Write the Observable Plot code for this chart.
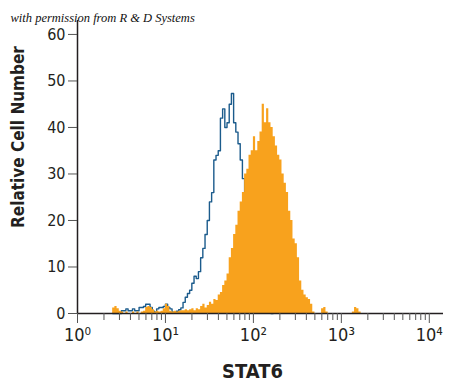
<!DOCTYPE html>
<html>
<head>
<meta charset="utf-8">
<script src="https://cdn.jsdelivr.net/npm/d3@7"></script>
<script src="https://cdn.jsdelivr.net/npm/@observablehq/plot@0.6"></script>
<style>
  html, body { margin: 0; padding: 0; background: #fff; }
  #chart { width: 450px; height: 391px; }
</style>
</head>
<body>
<div id="chart"></div>
<script>
// Histogram channels: log10 start and width of one channel (40 channels per decade)
const binStartLog = 0.4;
const binWidthLog = 0.025;

// Isotype control (blue outline), counts per channel
const blueCounts = [
  0, 0, 0, 0, 0.6, 0.6, 1.0, 0.6, 0.6, 1.0,
  0.6, 0.6, 1.3, 1.3, 1.5, 2.0, 2.0, 1.3, 0.5, 0.3,
  1.0, 1.3, 1.3, 1.5, 2.0, 1.3, 1.0, 0.3, 0.3, 0.5,
  0.8, 1.2, 2.4, 3.5, 4.3, 5.0, 6.5, 8.0, 7.5, 9.0,
  12, 14, 17, 20, 24, 26, 33, 34, 35, 42,
  44, 40, 41, 45, 47.3, 41, 39, 36.5, 33, 29,
  25, 21, 17, 13, 10, 7, 5, 3.5, 2.5, 1.5,
  1, 0.5, 0
];

// STAT6 stained (orange filled), counts per channel
const orangeCounts = [
  1.2, 1.5, 1.0, 0.5, 0.3, 0, 0.3, 0, 0, 0.3,
  0, 0.3, 0, 0.3, 0.5, 1.3, 1.5, 1.3, 0.8, 0.3,
  0.5, 0.3, 0.5, 1.0, 2.0, 1.5, 0.5, 0.3, 0.5, 0.3,
  0.5, 0.6, 0.6, 0.8, 0.6, 0.8, 1.0, 0.6, 1.0, 0.8,
  1.5, 2.0, 1.2, 1.7, 2.4, 2.0, 3.0, 2.8, 4.0, 4.5,
  6.0, 7.0, 8.5, 12, 14, 17, 19, 22, 24, 26,
  30, 31, 34, 35, 38, 35, 37, 39, 45, 41,
  44, 41, 40, 38, 36, 34, 33, 30, 28, 26,
  22, 20, 16, 15, 12, 7, 5, 4, 3.4, 3,
  2, 0.3, 0, 0, 0, 1.0, 1.3, 0.3, 0, 0,
  0, 0, 0, 0, 0, 0, 0, 0, 0, 0.3,
  1.3, 1.0, 0.3
];

const yTicks = [0, 10, 20, 30, 40, 50, 60];
const xMajorTicks = [1, 10, 100, 1000, 10000];
const xMajorLabels = ["10\u2070", "10\u00b9", "10\u00b2", "10\u00b3", "10\u2074"];
const xMinorMultipliers = [2, 3, 4, 5, 6, 7, 8, 9];

const xTitle = "STAT6";
const yTitle = "Relative Cell Number";
const credit = "with permission from R & D Systems";

// Build channel tables (step outlines from channel edges)
const edge = i => Math.pow(10, binStartLog + i * binWidthLog);
const toSteps = counts => counts.flatMap((v, i) => [{x: edge(i), y: v}, {x: edge(i + 1), y: v}]);
const orangeSteps = toSteps(orangeCounts);
const blueSteps = toSteps(blueCounts);
const xMinorTicks = xMajorTicks.slice(0, -1).flatMap(d => xMinorMultipliers.map(m => d * m));

const axisColor = "#231f20";
const sansFont = "'DejaVu Sans Condensed', 'Liberation Sans Narrow', 'DejaVu Sans', sans-serif";

const chart = Plot.plot({
  width: 450,
  height: 391,
  marginLeft: 77,
  marginRight: 7,
  marginTop: 20,
  marginBottom: 78,
  x: {type: "log", domain: [1, 14500]},
  y: {domain: [0, 63]},
  style: {background: "#fff", overflow: "visible", fontFamily: sansFont, fontStretch: "condensed"},
  marks: [
    Plot.line(blueSteps, {x: "x", y: "y", stroke: "#1b5b8c", strokeWidth: 1.4}),
    Plot.areaY(orangeSteps, {x: "x", y1: 0, y2: "y", fill: "#f8a21d"}),
    Plot.ruleY([0], {stroke: axisColor, strokeWidth: 1.5}),
    Plot.ruleX([1], {stroke: axisColor, strokeWidth: 1.5}),
    Plot.axisY({ticks: yTicks, tickSize: 9, tickPadding: 3, fontSize: 16, stroke: "#555", color: axisColor, label: null}),
    Plot.axisX({ticks: xMajorTicks, tickSize: 10, tickPadding: 5, fontSize: 18, stroke: "#555", color: axisColor,
      tickFormat: d => xMajorLabels[xMajorTicks.indexOf(d)], label: null}),
    Plot.axisX({ticks: xMinorTicks, tickSize: 7, stroke: "#555", tickFormat: () => "", label: null}),
    Plot.text([yTitle], {frameAnchor: "left", textAnchor: "middle", dx: -59, dy: -30, rotate: -90, fontSize: 17, fontWeight: "bold", fill: axisColor}),
    Plot.text([xTitle], {frameAnchor: "bottom", dx: -8, dy: 64, fontSize: 20, fontWeight: "bold", fill: axisColor}),
    Plot.text([credit], {frameAnchor: "top-left", dx: -67, dy: -7, textAnchor: "start", fontSize: 12.5, fontStyle: "italic",
      fontFamily: "Liberation Serif, DejaVu Serif, serif", fill: "#111"})
  ]
});

document.getElementById("chart").appendChild(chart);
</script>
</body>
</html>
